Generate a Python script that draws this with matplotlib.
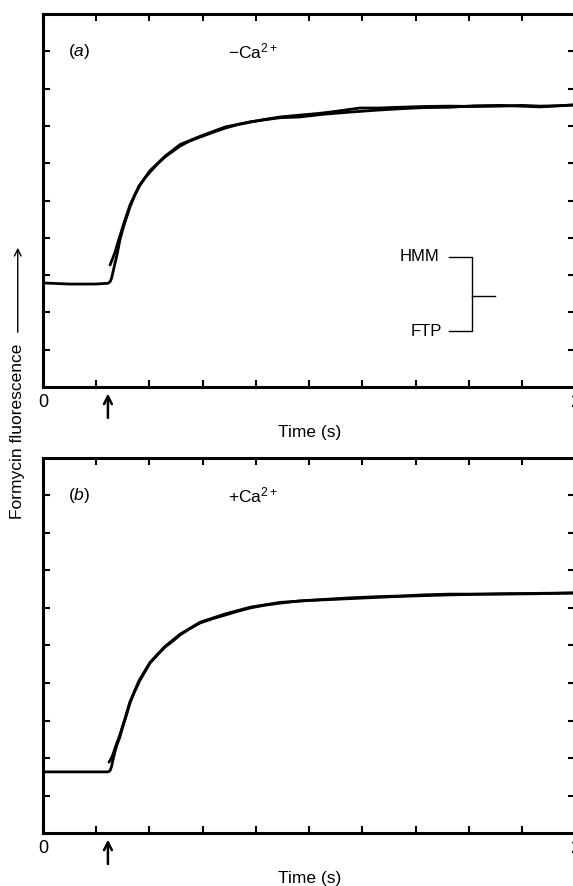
import matplotlib.pyplot as plt

plt.rcParams['font.family'] = ['Liberation Sans', 'DejaVu Sans']
plt.rcParams['mathtext.fontset'] = 'custom'
plt.rcParams['mathtext.rm'] = 'Liberation Sans'
plt.rcParams['mathtext.it'] = 'Liberation Sans:italic'

# (a) -Ca2+ : trace starting from baseline and fitted trace starting at the jump
a1_t = [0.0, 0.10, 0.195, 0.244, 0.252, 0.258, 0.263, 0.270, 0.278, 0.289, 0.298, 0.308,
        0.318, 0.327, 0.345, 0.365, 0.383, 0.402, 0.430, 0.459, 0.490, 0.515, 0.550,
        0.590, 0.640, 0.684, 0.730, 0.778, 0.830, 0.891, 0.966, 1.030, 1.079, 1.130,
        1.191, 1.260, 1.342, 1.430, 1.530, 1.620, 1.718, 1.800, 1.868, 1.930, 1.992]
a1_y = [2.79, 2.76, 2.76, 2.78, 2.82, 2.92, 3.08, 3.30, 3.54, 3.94, 4.18, 4.42,
        4.63, 4.83, 5.14, 5.42, 5.60, 5.76, 5.98, 6.17, 6.33, 6.46, 6.59,
        6.70, 6.83, 6.94, 7.03, 7.10, 7.17, 7.24, 7.29, 7.33, 7.37, 7.42,
        7.48, 7.48, 7.50, 7.52, 7.53, 7.52, 7.53, 7.55, 7.53, 7.54, 7.56]
a2_t = [0.252, 0.262, 0.271, 0.280, 0.289, 0.308, 0.327, 0.360, 0.402, 0.459, 0.515, 0.590,
        0.684, 0.778, 0.891, 0.966, 1.050, 1.154, 1.250, 1.342, 1.430, 1.530, 1.620,
        1.718, 1.868, 1.992]
a2_y = [3.27, 3.45, 3.62, 3.84, 4.05, 4.48, 4.88, 5.38, 5.80, 6.19, 6.50, 6.72,
        6.97, 7.11, 7.22, 7.24, 7.31, 7.37, 7.42, 7.46, 7.49, 7.50, 7.54,
        7.55, 7.51, 7.56]

# (b) +Ca2+
b1_t = [0.0, 0.10, 0.195, 0.244, 0.252, 0.258, 0.263, 0.270, 0.278, 0.289, 0.298, 0.308,
        0.318, 0.327, 0.345, 0.365, 0.383, 0.402, 0.430, 0.459, 0.490, 0.515, 0.550,
        0.590, 0.640, 0.684, 0.730, 0.778, 0.830, 0.891, 0.966, 1.060, 1.154, 1.250,
        1.342, 1.430, 1.530, 1.620, 1.718, 1.850, 1.992]
b1_y = [1.63, 1.63, 1.63, 1.63, 1.66, 1.78, 1.95, 2.15, 2.35, 2.56, 2.79, 3.01,
        3.25, 3.47, 3.78, 4.08, 4.30, 4.53, 4.75, 4.96, 5.13, 5.28, 5.44,
        5.60, 5.72, 5.81, 5.91, 6.00, 6.07, 6.13, 6.19, 6.23, 6.27, 6.30,
        6.32, 6.35, 6.37, 6.37, 6.37, 6.38, 6.40]
b2_t = [0.248, 0.256, 0.263, 0.275, 0.289, 0.308, 0.327, 0.360, 0.402, 0.459, 0.515, 0.590,
        0.684, 0.778, 0.891, 1.000, 1.154, 1.342, 1.530, 1.718, 1.992]
b2_y = [1.89, 1.98, 2.10, 2.35, 2.62, 3.05, 3.50, 4.05, 4.55, 4.98, 5.30, 5.62,
        5.84, 6.02, 6.15, 6.20, 6.25, 6.31, 6.35, 6.38, 6.40]

xticks = [0, 0.2, 0.4, 0.6, 0.8, 1.0, 1.2, 1.4, 1.6, 1.8, 2.0]
xticklabels = ['0', '', '', '', '', '', '', '', '', '', '2']
yticks = [1, 2, 3, 4, 5, 6, 7, 8, 9]
t_jump = 0.244

fig = plt.figure(figsize=(5.73, 8.86), dpi=100)
ax_a = fig.add_axes([0.075, 0.5632, 0.929, 0.421])
ax_b = fig.add_axes([0.075, 0.0598, 0.929, 0.4233])

panels = [
    (ax_a, [(a1_t, a1_y), (a2_t, a2_y)], '($\\mathit{a}$)', '$-$Ca$^{2+}$'),
    (ax_b, [(b1_t, b1_y), (b2_t, b2_y)], '($\\mathit{b}$)', '+Ca$^{2+}$'),
]

for ax, traces, tag, cond in panels:
    for t, y in traces:
        ax.plot(t, y, color='black', lw=2.0, solid_capstyle='round',
                solid_joinstyle='round')
    ax.set_xlim(0, 2)
    ax.set_ylim(0, 10)
    for s in ax.spines.values():
        s.set_linewidth(2.2)
    ax.set_xticks(xticks)
    ax.set_xticklabels(xticklabels, fontsize=13)
    ax.set_yticks(yticks)
    ax.set_yticklabels([])
    ax.tick_params(axis='both', direction='in', length=5, width=1.5,
                   top=True, right=True, pad=5)
    ax.set_xlabel('Time (s)', fontsize=12.5, labelpad=10)
    ax.text(0.135, 9.0, tag, fontsize=12.5, ha='center', va='center')
    ax.text(0.79, 9.0, cond, fontsize=12.5, ha='center', va='center')
    ax.annotate('', xy=(t_jump, -0.1), xytext=(t_jump, -0.9),
                xycoords='data', annotation_clip=False,
                arrowprops=dict(arrowstyle='->', lw=1.8, color='black',
                                mutation_scale=14))

# HMM / FTP bracket in panel (a)
ax_a.text(1.49, 3.49, 'HMM', fontsize=12, ha='right', va='center')
ax_a.text(1.50, 1.50, 'FTP', fontsize=12, ha='right', va='center')
ax_a.plot([1.526, 1.613, 1.613, 1.526], [3.49, 3.49, 1.50, 1.50], color='black', lw=1.0)
ax_a.plot([1.613, 1.699], [2.44, 2.44], color='black', lw=1.0)

fig.text(0.031, 0.513, 'Formycin fluorescence', rotation=90, fontsize=12.5,
         ha='center', va='center')
fig.patches.append(plt.matplotlib.patches.FancyArrowPatch(
    (0.031, 1 - 335 / 886), (0.031, 1 - 245 / 886), transform=fig.transFigure,
    arrowstyle='->', lw=1.0, color='black', mutation_scale=12))

fig.savefig('out.png', dpi=100)
